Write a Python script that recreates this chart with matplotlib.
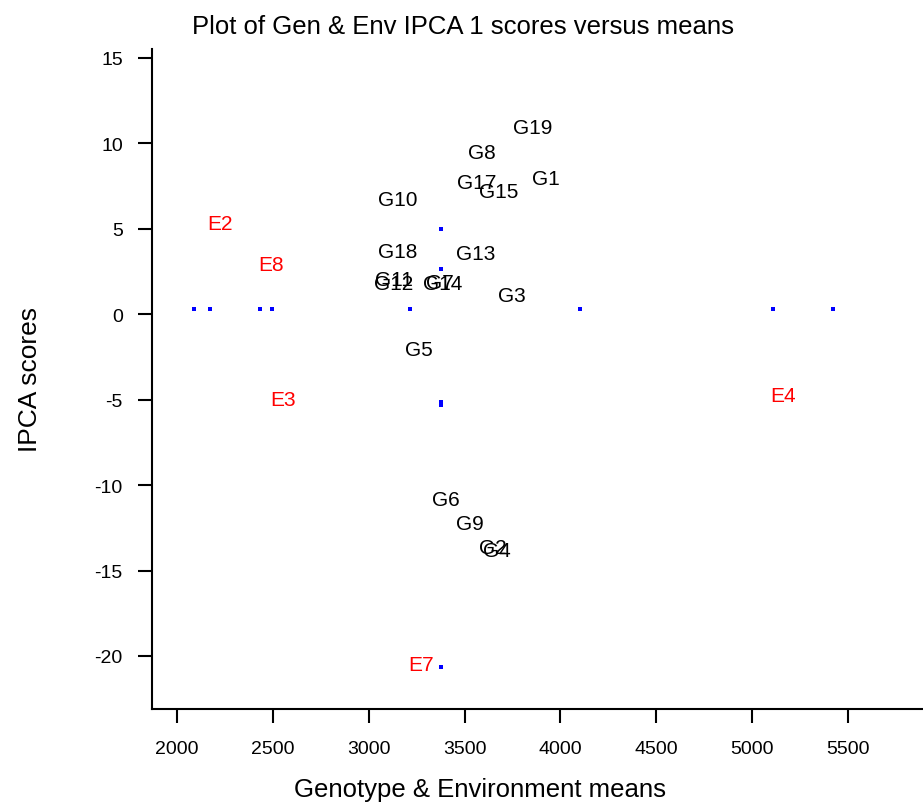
import matplotlib
matplotlib.use("Agg")
import matplotlib.pyplot as plt

plt.rcParams["font.family"] = ["Liberation Sans", "DejaVu Sans"]
plt.rcParams["axes.unicode_minus"] = False

# genotype labels: (mean, IPCA1)
gen_names = ["G19", "G8", "G1", "G17", "G15", "G10", "G18", "G13", "G11", "G12",
             "G7", "G14", "G3", "G5", "G6", "G9", "G2", "G4"]
gen_x = [3857, 3591, 3925, 3565, 3680, 3153, 3153, 3560, 3132, 3132,
         3372, 3387, 3747, 3262, 3403, 3528, 3648, 3669]
gen_y = [10.9, 9.45, 7.93, 7.7, 7.17, 6.7, 3.66, 3.55, 2.03, 1.79,
         1.85, 1.79, 1.09, -2.06, -10.83, -12.23, -13.63, -13.81]

env_names = ["E2", "E8", "E3", "E4", "E7"]
env_x = [2224, 2490, 2553, 5161, 3273]
env_y = [5.3, 2.9, -4.98, -4.75, -20.47]

# small blue markers
dot_x = [2089, 2172, 2433, 2496, 3215, 4102, 5109, 5422, 3377, 3377, 3377, 3377, 3377]
dot_y = [0.3, 0.3, 0.3, 0.3, 0.3, 0.3, 0.3, 0.3, 4.95, 2.61, -5.16, -5.33, -20.64]

fig = plt.figure(figsize=(9.23, 8.03), dpi=100)
ax = fig.add_axes([152 / 923, 1 - 710 / 803, 1 - 152 / 923, (710 - 50) / 803])

ax.plot(dot_x, dot_y, "s", color="blue", markersize=2.6, markeredgewidth=0, linestyle="none")

for n, x, y in zip(gen_names, gen_x, gen_y):
    ax.text(x, y, n, ha="center", va="center", fontsize=15, color="black")
for n, x, y in zip(env_names, env_x, env_y):
    ax.text(x, y, n, ha="center", va="center", fontsize=15, color="red")

ax.set_xlim(1870, 5891)
ax.set_ylim(-23.1, 15.5)
ax.set_xticks([2000, 2500, 3000, 3500, 4000, 4500, 5000, 5500])
ax.set_yticks([15, 10, 5, 0, -5, -10, -15, -20])
for s in ["top", "right"]:
    ax.spines[s].set_visible(False)
for s in ["left", "bottom"]:
    ax.spines[s].set_linewidth(1.5)
ax.tick_params(direction="out", length=10, width=1.5, labelsize=14)
ax.tick_params(axis="x", pad=12)
ax.tick_params(axis="y", pad=11)

fig.text(463 / 923, 1 - 27 / 803, "Plot of Gen & Env IPCA 1 scores versus means",
         ha="center", va="center", fontsize=18.5)
fig.text(480 / 923, 1 - 790 / 803, "Genotype & Environment means",
         ha="center", va="center", fontsize=18.5)
fig.text(30 / 923, 1 - 380 / 803, "IPCA scores", ha="center", va="center",
         rotation=90, fontsize=19)

fig.savefig("out.png", dpi=100)
